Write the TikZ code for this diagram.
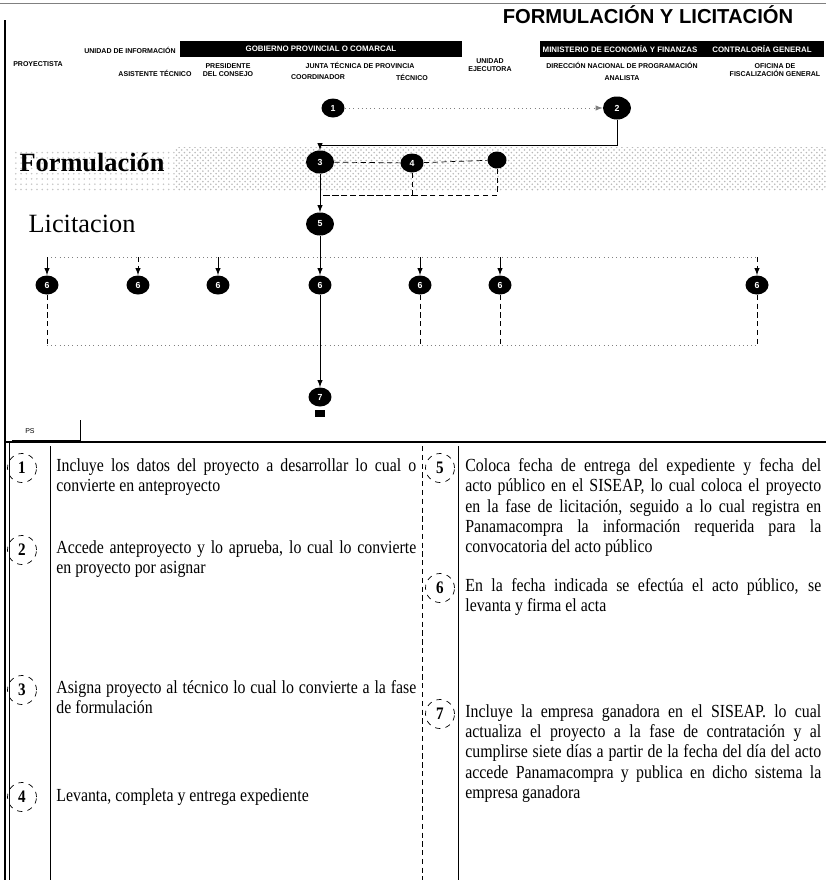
\documentclass[tikz,border=0pt]{standalone}
\usepackage{fontspec}
\setmainfont{Liberation Serif}
\setsansfont{Liberation Sans}
\newfontfamily\tabla[FakeStretch=0.86]{Liberation Serif}
\usetikzlibrary{shapes,arrows,positioning,patterns,backgrounds}

\begin{document}
\begin{tikzpicture}[x=0.02cm,y=-0.02cm]
		\tikzstyle{Paso}	= [ellipse, fill=black, text=white, minimum width=4.6mm, minimum height=3.8mm, inner sep=0pt, font=\sffamily\bfseries\fontsize{5}{5}\selectfont]
		\tikzstyle{PasoG}	= [Paso, minimum width=5.6mm, minimum height=4.6mm]
		\tikzstyle{Barra}	= [fill=black, text=white, minimum height=3.2mm, inner sep=0pt, font=\sffamily\bfseries\fontsize{4.5}{5}\selectfont]
		\tikzstyle{Rol}		= [align=center, inner sep=0pt, font=\sffamily\bfseries\fontsize{4}{4.6}\selectfont]
		\tikzstyle{Flujo}	= [thin, -latex]
		\tikzstyle{Guia}	= [densely dashed, thin]
		\tikzstyle{Tenue}	= [dotted, gray]
		\tikzstyle{Num}		= [circle, draw, dashed, minimum size=5.8mm, inner sep=0pt, font=\tabla\bfseries\fontsize{10}{10}\selectfont]
		\tikzstyle{Texto}	= [anchor=north west, inner sep=0pt, align=justify, font=\tabla\fontsize{10.5}{11.6}\selectfont]

		\useasboundingbox (0,0) rectangle (826,880);
		\fill [pattern=crosshatch dots, pattern color=gray!55] (175,147) rectangle (826,190);
		\fill [pattern=dots, pattern color=gray!45] (12,150) rectangle (175,190);

		\draw [gray] (0,3) to (826,3);
		\draw [very thick] (5,20) to (5,880);
		\draw [thin] (9,442) to (9,880);

		\node (titulo) at (648,15) [font=\sffamily\bfseries\fontsize{11.5}{12}\selectfont] {FORMULACIÓN Y LICITACIÓN};

		\node (info) at (130,50) [Rol] {UNIDAD DE INFORMACIÓN};
		\node (gob) at (321,49) [Barra, minimum width=5.64cm] {GOBIERNO PROVINCIAL O COMARCAL};
		\node (mef) at (620,49) [Barra, minimum width=3.2cm] {MINISTERIO DE ECONOMÍA Y FINANZAS};
		\node (cgr) at (762,49) [Barra, minimum width=2.48cm] {CONTRALORÍA GENERAL};

		\node (proy) at (38,64) [Rol] {PROYECTISTA};
		\node (asis) at (155,73) [Rol] {ASISTENTE TÉCNICO};
		\node (pres) at (228,70) [Rol] {PRESIDENTE\\DEL CONSEJO};
		\node (junta) at (360,65) [Rol] {JUNTA TÉCNICA DE PROVINCIA};
		\node (coord) at (318,77) [Rol] {COORDINADOR};
		\node (tec) at (412,77) [Rol] {TÉCNICO};
		\node (unid) at (490,65) [Rol] {UNIDAD\\EJECUTORA};
		\node (dir) at (622,65) [Rol] {DIRECCIÓN NACIONAL DE PROGRAMACIÓN};
		\node (anal) at (622,78) [Rol] {ANALISTA};
		\node (fisc) at (775,70) [Rol] {OFICINA DE\\FISCALIZACIÓN GENERAL};

		\node (p1) at (333,108) [Paso] {1};
		\node (p2) at (617,108) [PasoG] {2};

		\node (form) at (92,162) [font=\bfseries\fontsize{15}{15}\selectfont] {Formulación};
		\node (lic) at (82,224) [font=\fontsize{15}{15}\selectfont] {Licitacion};

		\node (f1) at (320,162) [PasoG] {3};
		\node (f2) at (412,163) [Paso] {4};
		\node (f3) at (497,160) [Paso, minimum width=3.8mm, minimum height=3.4mm] {};
		\node (l5) at (320,224) [PasoG] {5};

		\coordinate (c2) at (320,145);
		\coordinate (b1) at (320,195);

		\foreach \n/\x in {1/47,2/138,3/218,4/320,5/420,6/500,7/757} {
			\node (n\n) at (\x,285) [Paso] {6};
			\coordinate (t\n) at (\x,257);
			\coordinate (u\n) at (\x,345);
		}
		\node (p7) at (320,397) [Paso] {7};
		\node (ic) at (320,413) [fill=black, minimum width=2mm, minimum height=1.4mm, inner sep=0pt] {};

		\draw [Flujo] (p1) to (p2) [Tenue];
		\draw [Flujo] (p2) |- (c2) -- (f1);
		\draw [-] (f1) to (f2) [Guia];
		\draw [-] (f2) to (f3) [Guia];
		\draw [-] (f2) |- (b1) [Guia];
		\draw [-] (f3) |- (b1) [Guia];
		\draw [Flujo] (f1) to (l5);
		\draw [-] (l5) to (t4);
		\draw [-] (t1) to (t7) [Tenue];
		\draw [Flujo] (t1) to (n1);
		\draw [Flujo] (t2) to (n2) [Guia];
		\draw [Flujo] (t3) to (n3);
		\draw [Flujo] (t4) to (n4);
		\draw [Flujo] (t5) to (n5);
		\draw [Flujo] (t6) to (n6);
		\draw [Flujo] (t7) to (n7) [Guia];
		\draw [-] (n1) to (u1) [Guia];
		\draw [-] (n5) to (u5) [Guia];
		\draw [-] (n6) to (u6) [Guia];
		\draw [-] (n7) to (u7) [Guia];
		\draw [-] (u1) to (u7) [Tenue];
		\draw [Flujo] (n4) to (p7);

		\coordinate (ps1) at (12,440);
		\coordinate (ps2) at (80,440);
		\coordinate (ps3) at (80,420);
		\draw [-] (ps1) to (ps2) to (ps3);
		\node (ps) at (30,431) [font=\sffamily\fontsize{4}{4}\selectfont] {PS};

		\draw [very thick] (5,442) to (826,442);
		\draw [-] (50,446) to (50,880);
		\draw [-] (422,446) to (422,880) [Guia];
		\draw [-] (458,446) to (458,880);

		\node (k1) at (22,468) [Num] {1};
		\node (k2) at (22,550) [Num] {2};
		\node (k3) at (22,690) [Num] {3};
		\node (k4) at (22,797) [Num] {4};
		\node (k5) at (440,468) [Num] {5};
		\node (k6) at (440,588) [Num] {6};
		\node (k7) at (440,714) [Num] {7};

		\node (d1) at (56,458) [Texto, text width=7.2cm] {Incluye los datos del proyecto a desarrollar lo cual o\linebreak convierte en anteproyecto};
		\node (d2) at (56,540) [Texto, text width=7.2cm] {Accede anteproyecto y lo aprueba, lo cual lo convierte\linebreak en proyecto por asignar};
		\node (d3) at (56,680) [Texto, text width=7.2cm] {Asigna proyecto al técnico lo cual lo convierte a la fase\linebreak de formulación};
		\node (d4) at (56,788) [Texto, text width=7.2cm] {Levanta, completa y entrega expediente};
		\node (d5) at (465,458) [Texto, text width=7.12cm] {Coloca fecha de entrega del expediente y fecha del\linebreak acto público en el SISEAP, lo cual coloca el proyecto\linebreak en la fase de licitación, seguido a lo cual registra en\linebreak Panamacompra la información requerida para la\linebreak convocatoria del acto público};
		\node (d6) at (465,578) [Texto, text width=7.12cm] {En la fecha indicada se efectúa el acto público, se\linebreak levanta y firma el acta};
		\node (d7) at (465,704) [Texto, text width=7.12cm] {Incluye la empresa ganadora en el SISEAP. lo cual\linebreak actualiza el proyecto a la fase de contratación y al\linebreak cumplirse siete días a partir de la fecha del día del acto\linebreak accede Panamacompra y publica en dicho sistema la\linebreak empresa ganadora};
	\end{tikzpicture}
\end{document}
